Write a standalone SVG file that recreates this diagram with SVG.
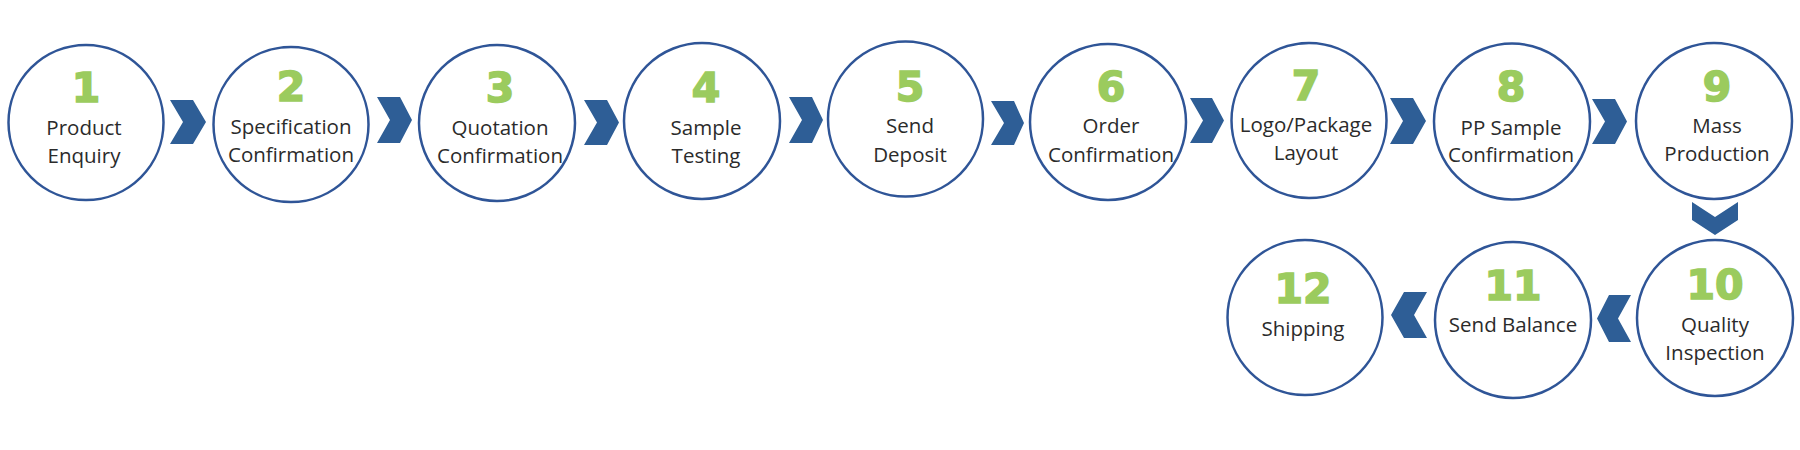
<svg xmlns="http://www.w3.org/2000/svg" width="1800" height="450" viewBox="0 0 1800 450">
<style>
.c{fill:#fff;stroke:#2F5597;stroke-width:2.5}
.n{font-family:"DejaVu Sans",sans-serif;font-weight:bold;font-size:41px;fill:#9BCB5E;stroke:#9BCB5E;stroke-width:1.6;text-anchor:middle}
.t{font-family:"Open Sans",sans-serif;font-size:20.5px;fill:#2b2b2b;text-anchor:middle}
.a{fill:#2E5E96}
</style>
<rect width="1800" height="450" fill="#fff"/>
<g id="connectors">
<polygon class="a" points="170,100 193,100 206,122 193,144 170,144 183,122"/>
<polygon class="a" points="377,97 400,97 412,120 400,143 377,143 390,120"/>
<polygon class="a" points="584,100 607,100 619,122.5 607,145 584,145 597,122.5"/>
<polygon class="a" points="789,97 812,97 823,120 812,143 789,143 802,120"/>
<polygon class="a" points="991,101 1014,101 1024,123 1014,145 991,145 1004,123"/>
<polygon class="a" points="1190,98 1212,98 1224,120.5 1212,143 1190,143 1203,120.5"/>
<polygon class="a" points="1390,98 1413,98 1426,121 1413,144 1390,144 1403,121"/>
<polygon class="a" points="1592,99 1615,99 1627,121.5 1615,144 1592,144 1605,121.5"/>
<polygon class="a" points="1692,202 1715,217 1738,202 1738,220 1715,235 1692,220"/>
<polygon class="a" points="1631,295 1609,295 1597,318.5 1609,342 1631,342 1618,318.5"/>
<polygon class="a" points="1427,292 1404,292 1391,315 1404,338 1427,338 1414,315"/>
</g>
<g id="n1"><circle class="c" cx="86" cy="122.5" r="77.5"/><text class="n" x="86" y="102">1</text><text class="t" x="84" y="135">Product</text><text class="t" x="84" y="163">Enquiry</text></g>
<g id="n2"><circle class="c" cx="291" cy="124.5" r="77.5"/><text class="n" x="291" y="101">2</text><text class="t" x="291" y="134">Specification</text><text class="t" x="291" y="162">Confirmation</text></g>
<g id="n3"><circle class="c" cx="497" cy="123" r="78"/><text class="n" x="500" y="102">3</text><text class="t" x="500" y="135">Quotation</text><text class="t" x="500" y="163">Confirmation</text></g>
<g id="n4"><circle class="c" cx="702" cy="121" r="78"/><text class="n" x="706" y="102">4</text><text class="t" x="706" y="135">Sample</text><text class="t" x="706" y="163">Testing</text></g>
<g id="n5"><circle class="c" cx="905.5" cy="119" r="77.5"/><text class="n" x="910" y="101">5</text><text class="t" x="910" y="133">Send</text><text class="t" x="910" y="162">Deposit</text></g>
<g id="n6"><circle class="c" cx="1108" cy="122" r="78"/><text class="n" x="1111" y="101">6</text><text class="t" x="1111" y="133">Order</text><text class="t" x="1111" y="162">Confirmation</text></g>
<g id="n7"><circle class="c" cx="1309" cy="120.5" r="77.5"/><text class="n" x="1306" y="100">7</text><text class="t" x="1306" y="132">Logo/Package</text><text class="t" x="1306" y="160">Layout</text></g>
<g id="n8"><circle class="c" cx="1512" cy="121.5" r="78"/><text class="n" x="1511" y="101">8</text><text class="t" x="1511" y="135">PP Sample</text><text class="t" x="1511" y="162">Confirmation</text></g>
<g id="n9"><circle class="c" cx="1714" cy="121" r="78"/><text class="n" x="1717" y="101">9</text><text class="t" x="1717" y="133">Mass</text><text class="t" x="1717" y="161">Production</text></g>
<g id="n10"><circle class="c" cx="1715" cy="318" r="78"/><text class="n" x="1715" y="299">10</text><text class="t" x="1715" y="332">Quality</text><text class="t" x="1715" y="360">Inspection</text></g>
<g id="n11"><circle class="c" cx="1513" cy="320" r="78"/><text class="n" x="1513" y="300">11</text><text class="t" x="1513" y="332">Send Balance</text></g>
<g id="n12"><circle class="c" cx="1305" cy="317.5" r="77.5"/><text class="n" x="1303" y="303">12</text><text class="t" x="1303" y="336">Shipping</text></g>
</svg>
